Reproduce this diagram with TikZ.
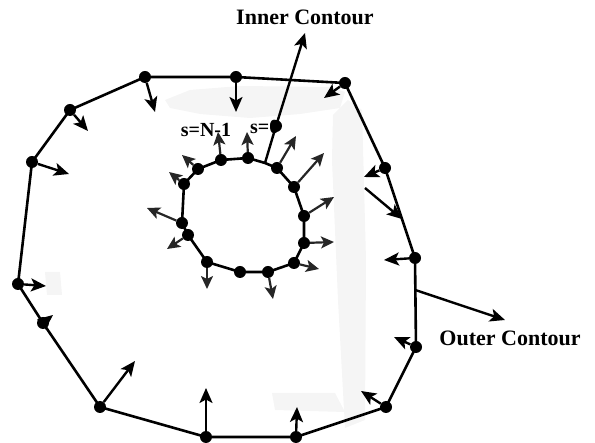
\documentclass[tikz,border=0pt]{standalone}
\usepackage{fontspec}
\setmainfont{Liberation Serif}
\usetikzlibrary{arrows.meta}
\begin{document}
\begin{tikzpicture}[x=1pt,y=-1pt,
  edge/.style={line width=2.6pt, line join=round},
  vtx/.style={circle, fill=black, inner sep=0pt, minimum size=12pt},
  onorm/.style={line width=2.4pt, -{Stealth[length=15pt,width=13pt,inset=3.5pt]}},
  inorm/.style={line width=2.2pt, black!85, -{Stealth[length=13pt,width=12pt,inset=3pt]}},
  lbl/.style={font=\bfseries\fontsize{22}{26}\selectfont, inner sep=0pt},
  slbl/.style={font=\bfseries\fontsize{20}{24}\selectfont, inner sep=0pt},
  shadezone/.style={fill=black!4, draw=none}]
\useasboundingbox (0,0) rectangle (595,443);
% light dotted shading
\path[shadezone] (165,100) -- (190,90) -- (240,86) -- (330,87) -- (345,92) -- (340,108) -- (300,114) -- (250,118) -- (200,114) -- (170,108) -- cycle;
\path[shadezone] (333,115) -- (348,100) -- (362,110) -- (366,260) -- (365,420) -- (345,428) -- (338,300) -- (332,160) -- cycle;
\path[shadezone] (272,393) -- (335,393) -- (345,412) -- (275,410) -- cycle;
\path[shadezone] (45,272) -- (60,272) -- (62,295) -- (47,295) -- cycle;
% outer contour vertices
\foreach \n/\x/\y in {o1/145/77, o2/236/77, o3/345/83, o4/385/168, o5/415/258, o6/416/347, o7/386/407, o8/296/437, o9/206/437, o10/100/407, o11/43/323, o12/18/284, o13/32/162, o14/70/110}
  \node[vtx] (\n) at (\x,\y) {};
% inner contour vertices
\foreach \n/\x/\y in {i1/221/160, i2/248/158, i3/277/168, i4/294/187, i5/304/216, i6/304/243, i7/294/263, i8/268/272, i9/240/272, i10/207/262, i11/188/235, i12/182/223, i13/184/184, i14/198/169}
  \node[vtx] (\n) at (\x,\y) {};
\coordinate (iv) at (265,163);
% contours
\draw[edge] (o1.center) -- (o2.center) -- (o3.center) -- (o4.center) -- (o5.center) -- (o6.center) -- (o7.center) -- (o8.center) -- (o9.center) -- (o10.center) -- (o11.center) -- (o12.center) -- (o13.center) -- (o14.center) -- cycle;
\draw[edge] (i1.center) -- (i2.center) -- (iv) -- (i3.center) -- (i4.center) -- (i5.center) -- (i6.center) -- (i7.center) -- (i8.center) -- (i9.center) -- (i10.center) -- (i11.center) -- (i12.center) -- (i13.center) -- (i14.center) -- cycle;
% labels
\node[lbl] (inlbl) at (305,17) {Inner Contour};
\node[lbl] (outlbl) at (510,338) {Outer Contour};
\node[slbl] (sn1) at (206,130) {s=N-1};
\node[slbl, anchor=west] (s0lbl) at (250,127) {s=0};
\node[vtx] (s0) at (276,126) {};
% label arrows
\coordinate (tin) at (305,33);
\draw[onorm] (iv) -- (s0.center) -- (tin);
\coordinate (oc) at (415.3,290);
\coordinate (toc) at (505,320);
\draw[onorm] (oc) -- (toc);
\coordinate (xa) at (365,188);
\coordinate (xb) at (402,219);
\draw[onorm] (xa) -- (xb);
% outer normals
\foreach \n/\x/\y in {o1/155/112, o2/236/112, o3/324/98, o4/364/177, o5/384/260, o6/394/337, o7/361/391, o8/297/407, o9/206/388, o10/135/361, o11/53/315, o12/46/286, o13/69/174, o14/88/131}
  \draw[onorm] (\n) -- (\x,\y);
% inner normals
\foreach \n/\x/\y in {i1/218/132, i2/247/132, i3/296/136, i4/324/153, i5/334/197, i6/334/242, i7/319/269, i8/273/299, i10/207/289, i11/167/249, i12/147/208, i13/169/172, i14/182/155}
  \draw[inorm] (\n) -- (\x,\y);
\end{tikzpicture}
\end{document}
